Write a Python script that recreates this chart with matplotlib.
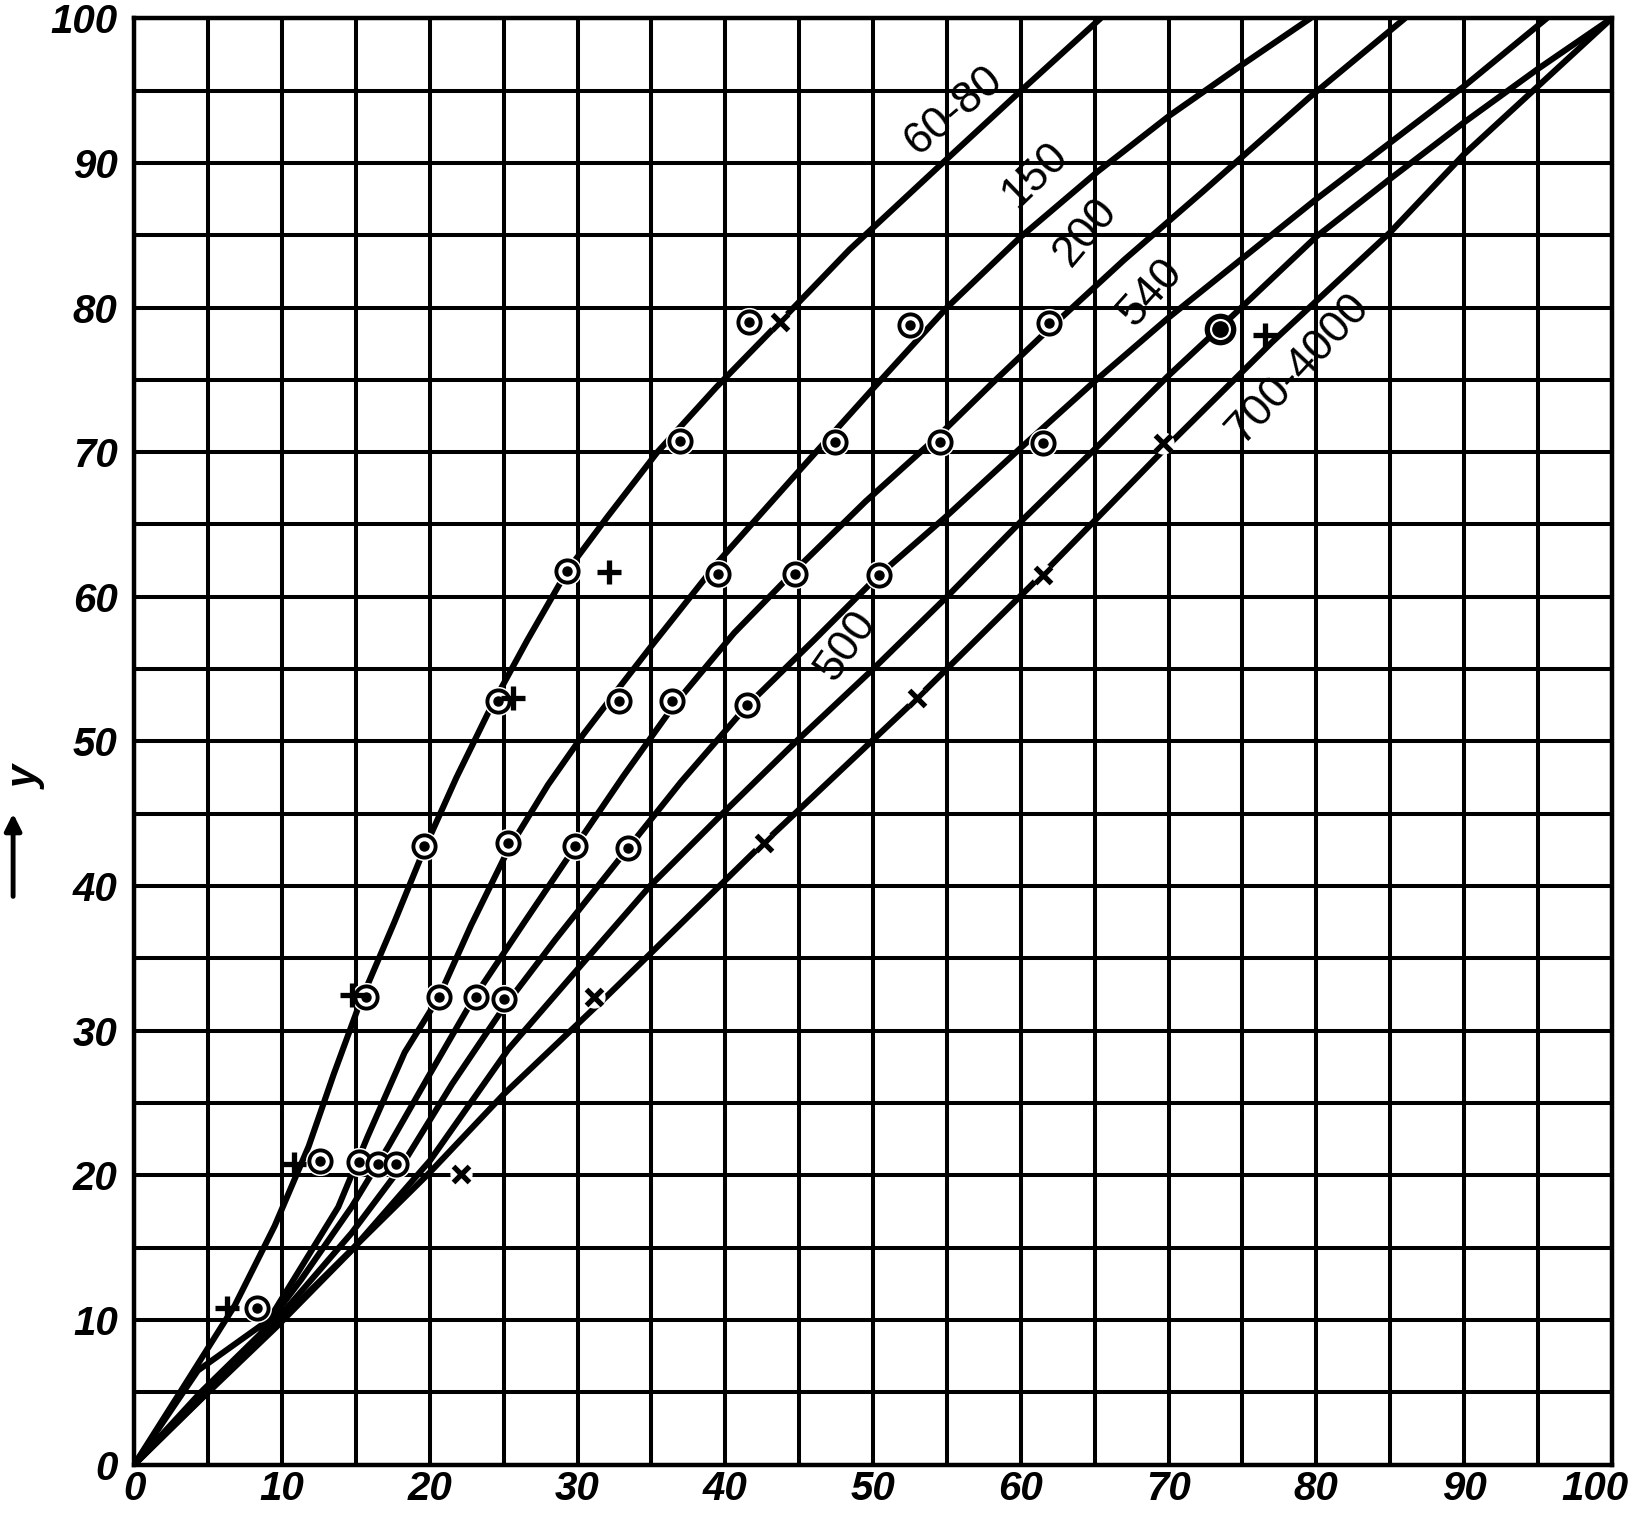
import matplotlib
matplotlib.use("Agg")
import matplotlib.pyplot as plt
import matplotlib.transforms as mtransforms
import numpy as np

# ------------------------------------------
# Data

curve_labels = ["60-80", "150", "200", "540", "500", "700-4000"]

x_6080 = [0, 3.1, 6.8, 9.5, 11.8, 13.5, 15.3, 17.6, 19.6, 21.8, 24.2, 26.6, 29.3, 32.0, 35.4, 39.4, 43.5, 48.4, 54.5, 59.8, 65.4]
y_6080 = [0, 5.0, 11.0, 16.5, 22.0, 27.0, 32.0, 37.5, 42.5, 47.5, 52.5, 57.0, 61.8, 65.5, 70.0, 74.5, 78.8, 84.0, 89.8, 94.8, 100]

x_150 = [0, 4.3, 9.1, 13.8, 15.8, 18.3, 20.6, 22.8, 25.3, 28.0, 30.4, 32.8, 35.0, 39.5, 44.9, 50.0, 55.0, 59.9, 65.2, 70.1, 75.0, 79.6]
y_150 = [0, 6.5, 10.0, 17.8, 22.7, 28.5, 32.3, 37.3, 42.5, 47.0, 50.5, 53.7, 56.6, 62.4, 68.6, 74.4, 80.0, 84.8, 89.4, 93.3, 96.8, 100]

x_200 = [0, 4.5, 8.5, 11.3, 14.7, 17.2, 20.0, 23.0, 26.4, 29.9, 33.1, 36.6, 40.6, 44.7, 49.5, 54.5, 58.3, 62.0, 67.0, 72.3, 79.5, 86.0]
y_200 = [0, 5.0, 9.0, 12.8, 17.8, 22.0, 27.0, 32.3, 37.5, 42.8, 47.6, 52.6, 57.5, 61.8, 66.6, 71.2, 75.0, 78.6, 83.3, 88.0, 94.5, 100]

x_540 = [0, 4.7, 9.8, 14.7, 18.0, 21.5, 25.0, 28.5, 33.4, 37.0, 41.5, 46.0, 50.4, 55.0, 60.0, 65.0, 70.0, 75.0, 80.0, 85.0, 90.0, 95.6]
y_540 = [0, 5.0, 10.2, 16.0, 20.5, 26.3, 31.6, 36.3, 42.6, 47.2, 52.5, 57.0, 61.5, 65.6, 70.3, 74.9, 79.3, 83.4, 87.5, 91.4, 95.3, 100]

x_500 = [0, 4.8, 9.6, 14.7, 20.0, 25.3, 30.3, 34.9, 39.8, 45.0, 50.0, 55.0, 60.0, 65.0, 69.9, 74.2, 80.0, 85.0, 90.0, 95.0, 100]
y_500 = [0, 4.8, 9.5, 14.8, 21.0, 28.7, 34.6, 40.0, 45.0, 50.2, 55.0, 60.0, 65.2, 70.2, 75.2, 79.3, 84.9, 88.9, 92.8, 96.5, 100]

x_7004000 = [0, 10, 20, 25, 32, 42, 53, 61.5, 70, 77, 85, 90, 95, 100]
y_7004000 = [0, 10.1, 20.2, 25.6, 32.4, 42.4, 53.0, 61.6, 70.5, 77.6, 85.2, 90.6, 95.3, 100]

# circled-dot points
circ_x = [8.3, 12.6, 15.7, 19.6, 24.6, 29.3, 36.9, 41.6,
          15.2, 20.6, 25.3, 32.8, 39.5, 47.4, 52.5,
          16.5, 23.1, 29.8, 36.4, 44.7, 54.5, 61.9,
          17.7, 25.0, 33.4, 41.5, 50.4, 61.5]
circ_y = [10.8, 21.0, 32.3, 42.8, 52.8, 61.8, 70.8, 79.0,
          20.9, 32.3, 43.0, 52.8, 61.6, 70.7, 78.8,
          20.8, 32.3, 42.8, 52.8, 61.6, 70.7, 78.9,
          20.8, 32.2, 42.6, 52.5, 61.5, 70.6]
big_x = [73.5]
big_y = [78.5]

plus_x = [6.3, 10.8, 14.7, 25.6, 32.1, 76.5]
plus_y = [10.8, 20.8, 32.5, 53.0, 61.7, 78.1]

cross_x = [43.7, 22.1, 31.1, 42.6, 53.0, 61.5, 69.6]
cross_y = [79.0, 20.1, 32.3, 43.0, 53.0, 61.5, 70.6]

ticks = [0, 10, 20, 30, 40, 50, 60, 70, 80, 90, 100]

# ------------------------------------------
# Figure

fam = ["Liberation Sans", "DejaVu Sans"]
plt.rcParams["font.family"] = fam

fig = plt.figure(figsize=(16.38, 15.24), dpi=100)
ax = fig.add_axes([0.082, 0.039, 0.902, 0.949])

ax.set_xlim(0, 100)
ax.set_ylim(0, 100)
ax.set_xticks(ticks)
ax.set_yticks(ticks)
ax.set_xticks(np.arange(5, 100, 10), minor=True)
ax.set_yticks(np.arange(5, 100, 10), minor=True)
ax.grid(True, which="both", color="black", linewidth=2.9)
ax.set_axisbelow(True)
ax.tick_params(which="both", length=0)
ax.tick_params(axis="x", pad=4)
ax.tick_params(axis="y", pad=12)
for lab in ax.get_xticklabels() + ax.get_yticklabels():
    lab.set_fontsize(29)
    lab.set_fontstyle("italic")
    lab.set_fontweight("bold")
for sp in ax.spines.values():
    sp.set_linewidth(3.2)

# last x label sits a bit left of its grid line, as in the print
last = ax.get_xticklabels()[-1]
last.set_transform(last.get_transform() +
                   mtransforms.ScaledTranslation(-0.17, 0, fig.dpi_scale_trans))

lw = 4.4
curves = [(x_6080, y_6080), (x_150, y_150), (x_200, y_200),
          (x_540, y_540), (x_500, y_500), (x_7004000, y_7004000)]
for cx, cy in curves:
    ax.plot(cx, cy, color="black", linewidth=lw, solid_capstyle="round",
            solid_joinstyle="round", zorder=3)

# white halos so the marks break the lines like in the print
ax.plot(circ_x, circ_y, "o", ms=20, mfc="white", mec="white", zorder=4)
ax.plot(cross_x, cross_y, "o", ms=15, mfc="white", mec="white", zorder=4)
ax.plot(circ_x, circ_y, "o", ms=16, mfc="white", mec="black", mew=2.8, zorder=5)
ax.plot(circ_x, circ_y, "o", ms=6.5, mfc="black", mec="black", zorder=6)
ax.plot(big_x, big_y, "o", ms=19, mfc="white", mec="black", mew=3.8, zorder=5)
ax.plot(big_x, big_y, "o", ms=11, mfc="black", mec="black", zorder=6)
ax.plot(plus_x, plus_y, "+", ms=17, color="black", mew=3.8, zorder=5)
ax.plot(cross_x, cross_y, "x", ms=11, color="black", mew=3.8, zorder=5)

# curve labels
lab_kw = dict(fontsize=32, ha="center", va="center", family=fam, zorder=7)
ax.text(55.5, 93.6, curve_labels[0], rotation=40, **lab_kw)
ax.text(61.0, 89.2, curve_labels[1], rotation=44, **lab_kw)
ax.text(64.4, 85.2, curve_labels[2], rotation=50, **lab_kw)
ax.text(68.8, 81.0, curve_labels[3], rotation=48, **lab_kw)
ax.text(48.2, 56.6, curve_labels[4], rotation=55, **lab_kw)
ax.text(78.8, 75.8, curve_labels[5], rotation=47, **lab_kw)

# vertical axis name with arrow
fig.text(0.004, 0.49, "y", rotation=90, fontsize=30, fontstyle="italic",
         fontweight="bold", ha="left", va="center")
ax.annotate("", xy=(0.008, 0.468), xytext=(0.008, 0.41),
            xycoords="figure fraction", textcoords="figure fraction",
            arrowprops=dict(arrowstyle="-|>", color="black", lw=3.5,
                            mutation_scale=25))

plt.savefig("out.png", dpi=100)
